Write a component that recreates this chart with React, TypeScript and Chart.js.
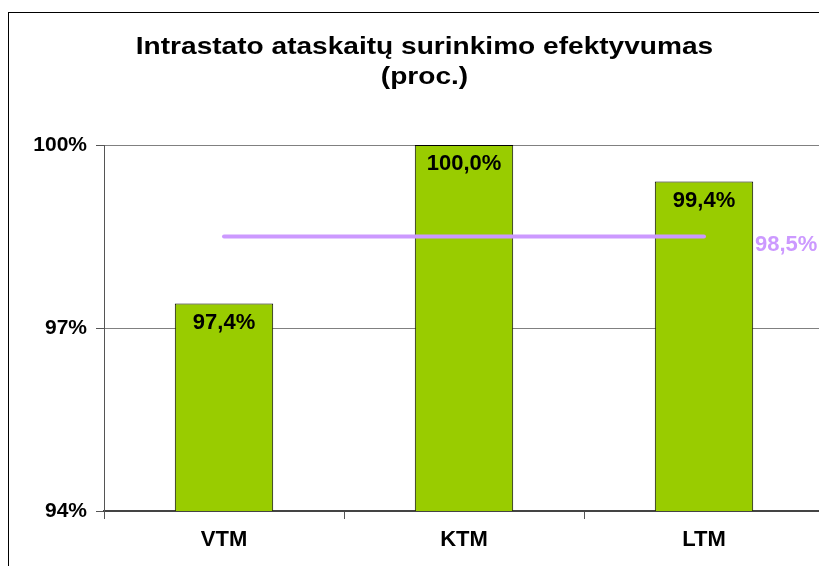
import React, { useEffect, useRef } from "react";
import { Chart, registerables } from "chart.js";

Chart.register(...registerables);

const titleLines = ["Intrastato ataskaitų surinkimo efektyvumas", "(proc.)"];
const categories = ["VTM", "KTM", "LTM"];
const barValues = [97.4, 100.0, 99.4];
const avgValues = [98.5, 98.5, 98.5];
const avgLabel = "98,5%";
const yTicks = [94, 97, 100];

const FONT = "'Liberation Sans', Arial, sans-serif";
const BAR_COLOR = "#99CC00";
const AVG_COLOR = "#CC99FF";

const fmt = (v: number) => v.toFixed(1).replace(".", ",") + "%";

const titlePlugin = {
  id: "stretchedTitle",
  afterDraw(chart: any) {
    const ctx = chart.ctx;
    ctx.save();
    ctx.font = `bold 24px ${FONT}`;
    ctx.fillStyle = "#000";
    ctx.textAlign = "center";
    ctx.textBaseline = "alphabetic";
    const cx = 416.5;
    const baselines = [46, 76];
    titleLines.forEach((t, i) => {
      ctx.save();
      ctx.translate(cx, baselines[i]);
      ctx.scale(1.17, 1);
      ctx.fillText(t, 0, 0);
      ctx.restore();
    });
    ctx.restore();
  },
};

const labelPlugin = {
  id: "valueLabels",
  afterDatasetsDraw(chart: any) {
    const ctx = chart.ctx;
    ctx.save();
    const barMeta = chart.getDatasetMeta(0);
    ctx.font = `bold 22px ${FONT}`;
    ctx.textAlign = "center";
    ctx.textBaseline = "middle";
    ctx.fillStyle = "#000";
    barMeta.data.forEach((el: any, i: number) => {
      ctx.fillText(fmt(barValues[i]), el.x, el.y + 19);
    });
    const lineMeta = chart.getDatasetMeta(1);
    const last = lineMeta.data[lineMeta.data.length - 1];
    ctx.fillStyle = AVG_COLOR;
    ctx.textAlign = "left";
    ctx.fillText(avgLabel, last.x + 51, last.y + 8);
    const a = chart.chartArea;
    ctx.strokeStyle = "#808080";
    ctx.lineWidth = 1;
    ctx.beginPath();
    ctx.moveTo(a.right - 0.5, a.top);
    ctx.lineTo(a.right - 0.5, a.bottom);
    ctx.stroke();
    ctx.restore();
  },
};

export default function App() {
  const ref = useRef<HTMLCanvasElement>(null);
  useEffect(() => {
    if (!ref.current) return;
    const chart = new Chart(ref.current, {
      type: "bar",
      data: {
        labels: categories,
        datasets: [
          {
            type: "bar",
            data: barValues,
            backgroundColor: BAR_COLOR,
            borderColor: "#000",
            borderWidth: 1,
            barPercentage: 0.41,
            categoryPercentage: 1,
            order: 2,
          },
          {
            type: "line",
            data: avgValues,
            borderColor: AVG_COLOR,
            borderWidth: 4,
            borderCapStyle: "round",
            pointRadius: 0,
            fill: false,
            order: 1,
          } as any,
        ],
      },
      options: {
        animation: false,
        responsive: false,
        maintainAspectRatio: false,
        layout: { padding: { left: 16, right: 3, top: 137, bottom: 0 } },
        plugins: {
          legend: { display: false },
          tooltip: { enabled: false },
          title: { display: false },
        },
        scales: {
          x: {
            grid: {
              display: true,
              drawOnChartArea: false,
              drawTicks: true,
              tickLength: 8,
              offset: true,
              color: "#555",
            },
            border: { display: true, color: "#444", width: 2 },
            ticks: {
              color: "#000",
              font: { family: FONT, size: 22, weight: "bold" },
              padding: 8,
            },
            afterFit: (s: any) => {
              s.height = 55;
            },
          },
          y: {
            min: yTicks[0],
            max: yTicks[yTicks.length - 1],
            afterBuildTicks: (s: any) => {
              s.ticks = yTicks.map((v) => ({ value: v }));
            },
            grid: {
              color: "#808080",
              tickColor: "#555",
              tickLength: 8,
              drawTicks: true,
            },
            border: { display: true, color: "#555", width: 1 },
            ticks: {
              color: "#000",
              font: { family: FONT, size: 21, weight: "bold" },
              padding: 9,
              callback: (v: any) => v + "%",
            },
            afterFit: (s: any) => {
              s.width = 80;
            },
          },
        },
      },
      plugins: [labelPlugin, titlePlugin],
    });
    return () => chart.destroy();
  }, []);

  return (
    <div style={{ position: "relative", width: 819, height: 558, overflow: "hidden" }}>
      <div
        style={{
          position: "absolute",
          left: 0,
          top: 4,
          width: 900,
          height: 700,
          border: "1px solid #000",
          boxSizing: "border-box",
        }}
      />
      <canvas
        ref={ref}
        width={819}
        height={558}
        style={{ position: "absolute", left: 0, top: 0, width: 819, height: 558 }}
      />
    </div>
  );
}
